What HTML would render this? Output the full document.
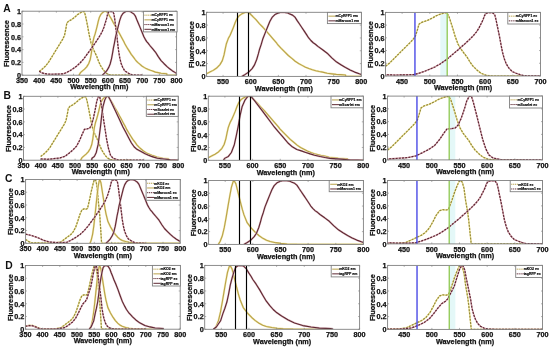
<!DOCTYPE html><html><head><meta charset="utf-8"><title>Spectra</title><style>html,body{margin:0;padding:0;background:#fff;width:550px;height:349px;overflow:hidden}svg{display:block;will-change:transform}</style></head><body><svg width="550" height="349" viewBox="0 0 550 349"><style>.t{font-family:"Liberation Sans",sans-serif;font-weight:bold;font-size:7.25px;fill:#111;stroke:#111;stroke-width:0.25px}.l{font-family:"Liberation Sans",sans-serif;font-size:3.5px;font-weight:bold;fill:#000;stroke:#000;stroke-width:0.15px}.p{font-family:"Liberation Sans",sans-serif;font-weight:bold;font-size:10.3px;fill:#111}</style><rect width="550" height="349" fill="#fff"/><clipPath id="cA1"><rect x="22" y="11.2" width="154.6" height="64"/></clipPath><clipPath id="cA2"><rect x="206.5" y="12.3" width="154.8" height="64.1"/></clipPath><clipPath id="cA3"><rect x="385.5" y="12.4" width="155" height="63.6"/></clipPath><clipPath id="cB1"><rect x="23.5" y="96.3" width="154.7" height="63.9"/></clipPath><clipPath id="cB2"><rect x="208.3" y="96.2" width="155" height="64.1"/></clipPath><clipPath id="cB3"><rect x="387.5" y="96.1" width="155" height="63.8"/></clipPath><clipPath id="cC1"><rect x="25.6" y="179.5" width="154.6" height="63.8"/></clipPath><clipPath id="cC2"><rect x="208.6" y="180.5" width="154.8" height="63.9"/></clipPath><clipPath id="cC3"><rect x="387.5" y="180.5" width="155" height="63.4"/></clipPath><clipPath id="cD1"><rect x="25.4" y="265.5" width="154.8" height="63.7"/></clipPath><clipPath id="cD2"><rect x="204.7" y="265.4" width="154.9" height="63.9"/></clipPath><clipPath id="cD3"><rect x="387.6" y="265.4" width="154.9" height="64"/></clipPath><g clip-path="url(#cA1)"><polyline points="39.18,71.49 42.61,68.8 45.71,65.86 48.66,62.02 52.16,56.38 55.67,50.62 59.21,44.93 62.75,39.17 64.5,35.46 65.67,29.76 66.83,23.1 68.59,21.18 72.12,19.26 75.59,16.45 77.38,14.72 79.85,13.12 82.36,11.84 84.18,11.52 85.52,15.81 87.38,24.96 89.23,35.07 91.09,43.2 92.94,48.32 94.83,52.35 96.69,56.26 98.54,61.31 100.4,65.34 102.94,69.38 105.42,72.51 108.51,74.5 112.15,75.2 130.56,75.2" fill="none" stroke="#eee39a" stroke-width="1.5" stroke-linejoin="round"/><polyline points="39.18,71.49 42.61,68.8 45.71,65.86 48.66,62.02 52.16,56.38 55.67,50.62 59.21,44.93 62.75,39.17 64.5,35.46 65.67,29.76 66.83,23.1 68.59,21.18 72.12,19.26 75.59,16.45 77.38,14.72 79.85,13.12 82.36,11.84 84.18,11.52 85.52,15.81 87.38,24.96 89.23,35.07 91.09,43.2 92.94,48.32 94.83,52.35 96.69,56.26 98.54,61.31 100.4,65.34 102.94,69.38 105.42,72.51 108.51,74.5 112.15,75.2 130.56,75.2" fill="none" stroke="#948a3c" stroke-width="1.2" stroke-dasharray="2,1.2" stroke-linejoin="round"/><polyline points="79.03,75.2 80.4,72.64 82.4,70.91 84.56,69.18 86.69,66.88 88.79,63.42 90.23,59.46 91.3,53.76 92.02,48.06 92.77,42.56 93.94,37.44 95.07,34.05 96.14,30.08 97.17,26.11 98.23,21.44 99.3,17.6 100.71,14.66 102.15,12.99 104.32,11.39 106.45,11.2 106.86,11.84 109.06,15.17 111.15,18.56 113.35,22.72 115.45,26.11 117.58,30.08 119.74,34.05 121.87,38.08 124.04,42.05 124.83,43.84 126.96,47.42 129.12,50.88 131.25,54.34 133.42,57.15 135.51,60.03 137.64,62.34 139.81,64.19 141.9,65.98 144.03,67.39 146.2,68.61 148.29,69.5 150.49,70.34 152.55,70.91 155.4,72.13 158.25,72.64 161.07,73.22 163.89,73.47 166.77,73.79 166.98,75.2 176.6,75.2" fill="none" stroke="#f2e9b0" stroke-width="2.0" stroke-linejoin="round"/><polyline points="79.03,75.2 80.4,72.64 82.4,70.91 84.56,69.18 86.69,66.88 88.79,63.42 90.23,59.46 91.3,53.76 92.02,48.06 92.77,42.56 93.94,37.44 95.07,34.05 96.14,30.08 97.17,26.11 98.23,21.44 99.3,17.6 100.71,14.66 102.15,12.99 104.32,11.39 106.45,11.2 106.86,11.84 109.06,15.17 111.15,18.56 113.35,22.72 115.45,26.11 117.58,30.08 119.74,34.05 121.87,38.08 124.04,42.05 124.83,43.84 126.96,47.42 129.12,50.88 131.25,54.34 133.42,57.15 135.51,60.03 137.64,62.34 139.81,64.19 141.9,65.98 144.03,67.39 146.2,68.61 148.29,69.5 150.49,70.34 152.55,70.91 155.4,72.13 158.25,72.64 161.07,73.22 163.89,73.47 166.77,73.79 166.98,75.2 176.6,75.2" fill="none" stroke="#b9a24a" stroke-width="1.1" stroke-linejoin="round"/><polyline points="39.18,71.3 41.93,72.9 46.39,73.92 51.89,74.24 58.42,74.05 63.57,73.79 66.9,72.38 70.2,70.53 73.43,68.42 76.69,66.11 79.99,63.04 84.08,58.43 88.2,52.8 91.05,48.96 92.77,46.4 95.28,42.88 98.23,38.4 100.54,34.62 102.39,31.04 103.9,27.39 105.38,22.59 106.51,18.88 107.61,14.08 108.75,11.9 110.98,11.39 112.84,11.9 113.94,14.02 114.69,18.88 115.45,24.96 116.24,31.04 116.99,37.06 117.68,43.2 118.61,50.88 119.71,57.6 121.01,63.1 122.73,67.46 124.72,70.78 127.13,72.38 129.53,73.79 131.87,74.88 142.24,75.2" fill="none" stroke="#d7a7b0" stroke-width="1.5" stroke-linejoin="round"/><polyline points="39.18,71.3 41.93,72.9 46.39,73.92 51.89,74.24 58.42,74.05 63.57,73.79 66.9,72.38 70.2,70.53 73.43,68.42 76.69,66.11 79.99,63.04 84.08,58.43 88.2,52.8 91.05,48.96 92.77,46.4 95.28,42.88 98.23,38.4 100.54,34.62 102.39,31.04 103.9,27.39 105.38,22.59 106.51,18.88 107.61,14.08 108.75,11.9 110.98,11.39 112.84,11.9 113.94,14.02 114.69,18.88 115.45,24.96 116.24,31.04 116.99,37.06 117.68,43.2 118.61,50.88 119.71,57.6 121.01,63.1 122.73,67.46 124.72,70.78 127.13,72.38 129.53,73.79 131.87,74.88 142.24,75.2" fill="none" stroke="#5c2632" stroke-width="1.2" stroke-dasharray="2,1.2" stroke-linejoin="round"/><polyline points="102.32,75.2 104.45,73.22 106.62,70.91 108.75,67.39 110.16,64 111.6,58.3 112.66,52.54 113.39,48.06 114.42,43.2 115.45,37.57 116.89,31.74 118.3,26.11 119.74,20.42 121.15,16.32 122.9,13.5 124.72,12.1 126.82,11.2 128.85,11.33 131.04,11.84 131.8,12.61 133.9,14.02 135.37,16.06 136.75,19.52 138.19,22.91 139.63,26.37 141.04,29.76 142.48,33.28 143.89,36.8 145.27,39.36 146.71,41.6 148.08,43.07 149.63,45.25 152.55,48.58 155.4,52.03 158.25,56.64 161.07,60.61 163.89,63.49 166.77,66.3 169.63,68.8 172.48,70.91 175.36,72.64 176.6,73.22" fill="none" stroke="#e2c0c6" stroke-width="2.0" stroke-linejoin="round"/><polyline points="102.32,75.2 104.45,73.22 106.62,70.91 108.75,67.39 110.16,64 111.6,58.3 112.66,52.54 113.39,48.06 114.42,43.2 115.45,37.57 116.89,31.74 118.3,26.11 119.74,20.42 121.15,16.32 122.9,13.5 124.72,12.1 126.82,11.2 128.85,11.33 131.04,11.84 131.8,12.61 133.9,14.02 135.37,16.06 136.75,19.52 138.19,22.91 139.63,26.37 141.04,29.76 142.48,33.28 143.89,36.8 145.27,39.36 146.71,41.6 148.08,43.07 149.63,45.25 152.55,48.58 155.4,52.03 158.25,56.64 161.07,60.61 163.89,63.49 166.77,66.3 169.63,68.8 172.48,70.91 175.36,72.64 176.6,73.22" fill="none" stroke="#5e2832" stroke-width="1.1" stroke-linejoin="round"/></g><rect x="22" y="11.2" width="154.6" height="64" fill="none" stroke="#808080" stroke-width="0.9"/><path d="M22 75.2v-1.5M22 11.2v1.5M39.18 75.2v-1.5M39.18 11.2v1.5M56.36 75.2v-1.5M56.36 11.2v1.5M73.53 75.2v-1.5M73.53 11.2v1.5M90.71 75.2v-1.5M90.71 11.2v1.5M107.89 75.2v-1.5M107.89 11.2v1.5M125.07 75.2v-1.5M125.07 11.2v1.5M142.24 75.2v-1.5M142.24 11.2v1.5M159.42 75.2v-1.5M159.42 11.2v1.5M176.6 75.2v-1.5M176.6 11.2v1.5M22 75.2h1.5M176.6 75.2h-1.5M22 62.4h1.5M176.6 62.4h-1.5M22 49.6h1.5M176.6 49.6h-1.5M22 36.8h1.5M176.6 36.8h-1.5M22 24h1.5M176.6 24h-1.5M22 11.2h1.5M176.6 11.2h-1.5" stroke="#808080" stroke-width="0.6" fill="none"/><text x="22" y="82.8" class="t" text-anchor="middle">350</text><text x="39.18" y="82.8" class="t" text-anchor="middle">400</text><text x="56.36" y="82.8" class="t" text-anchor="middle">450</text><text x="73.53" y="82.8" class="t" text-anchor="middle">500</text><text x="90.71" y="82.8" class="t" text-anchor="middle">550</text><text x="107.89" y="82.8" class="t" text-anchor="middle">600</text><text x="125.07" y="82.8" class="t" text-anchor="middle">650</text><text x="142.24" y="82.8" class="t" text-anchor="middle">700</text><text x="159.42" y="82.8" class="t" text-anchor="middle">750</text><text x="176.6" y="82.8" class="t" text-anchor="middle">800</text><text x="21" y="78.05" class="t" text-anchor="end">0</text><text x="21" y="65.25" class="t" text-anchor="end">0.2</text><text x="21" y="52.45" class="t" text-anchor="end">0.4</text><text x="21" y="39.65" class="t" text-anchor="end">0.6</text><text x="21" y="26.85" class="t" text-anchor="end">0.8</text><text x="21" y="14.05" class="t" text-anchor="end">1</text><text x="99.3" y="89.4" class="t" text-anchor="middle">Wavelength (nm)</text><text transform="translate(9.2 43.5) rotate(-90)" class="t" text-anchor="middle">Fluorescence</text><rect x="143.4" y="11.4" width="33.7" height="20.5" fill="#fff" stroke="#808080" stroke-width="0.9"/><line x1="144.4" y1="15.15" x2="151.4" y2="15.15" stroke="#b9a24a" stroke-width="1" stroke-dasharray="1.2,0.7"/><text x="151.4" y="16.4" class="l">mCyRFP1 ex</text><line x1="144.4" y1="19.87" x2="151.4" y2="19.87" stroke="#b9a24a" stroke-width="1"/><text x="151.4" y="21.12" class="l">mCyRFP1 em</text><line x1="144.4" y1="24.59" x2="151.4" y2="24.59" stroke="#5e2832" stroke-width="1" stroke-dasharray="1.2,0.7"/><text x="151.4" y="25.84" class="l">mMaroon1 ex</text><line x1="144.4" y1="29.31" x2="151.4" y2="29.31" stroke="#5e2832" stroke-width="1"/><text x="151.4" y="30.56" class="l">mMaroon1 em</text><g clip-path="url(#cA2)"><polyline points="204.29,76.4 206.5,73.84 209.71,72.11 213.19,70.37 216.62,68.07 219.99,64.61 222.31,60.63 224.03,54.93 225.19,49.22 226.4,43.71 228.28,38.58 230.11,35.18 231.82,31.21 233.48,27.24 235.19,22.56 236.91,18.71 239.17,15.76 241.5,14.09 244.98,12.49 248.41,12.3 249.07,12.94 252.61,16.27 255.98,19.67 259.52,23.84 262.89,27.24 266.32,31.21 269.8,35.18 273.23,39.22 276.71,43.2 277.98,44.99 281.41,48.58 284.9,52.04 288.32,55.5 291.81,58.32 295.18,61.21 298.61,63.52 302.09,65.37 305.46,67.17 308.89,68.58 312.37,69.8 315.74,70.7 319.28,71.53 322.6,72.11 327.19,73.32 331.78,73.84 336.31,74.41 340.84,74.67 345.49,74.99 345.82,76.4 361.3,76.4" fill="none" stroke="#f2e9b0" stroke-width="2.0" stroke-linejoin="round"/><polyline points="204.29,76.4 206.5,73.84 209.71,72.11 213.19,70.37 216.62,68.07 219.99,64.61 222.31,60.63 224.03,54.93 225.19,49.22 226.4,43.71 228.28,38.58 230.11,35.18 231.82,31.21 233.48,27.24 235.19,22.56 236.91,18.71 239.17,15.76 241.5,14.09 244.98,12.49 248.41,12.3 249.07,12.94 252.61,16.27 255.98,19.67 259.52,23.84 262.89,27.24 266.32,31.21 269.8,35.18 273.23,39.22 276.71,43.2 277.98,44.99 281.41,48.58 284.9,52.04 288.32,55.5 291.81,58.32 295.18,61.21 298.61,63.52 302.09,65.37 305.46,67.17 308.89,68.58 312.37,69.8 315.74,70.7 319.28,71.53 322.6,72.11 327.19,73.32 331.78,73.84 336.31,74.41 340.84,74.67 345.49,74.99 345.82,76.4 361.3,76.4" fill="none" stroke="#b9a24a" stroke-width="1.1" stroke-linejoin="round"/><polyline points="241.77,76.4 245.2,74.41 248.68,72.11 252.11,68.58 254.38,65.18 256.7,59.48 258.41,53.71 259.57,49.22 261.23,44.35 262.89,38.71 265.21,32.88 267.48,27.24 269.8,21.53 272.07,17.43 274.89,14.61 277.82,13.2 281.19,12.3 284.45,12.43 287.99,12.94 289.21,13.71 292.58,15.12 294.96,17.17 297.17,20.63 299.49,24.03 301.81,27.49 304.08,30.89 306.4,34.41 308.67,37.94 310.88,40.5 313.2,42.75 315.41,44.22 317.9,46.4 322.6,49.73 327.19,53.2 331.78,57.81 336.31,61.79 340.84,64.67 345.49,67.49 350.08,69.99 354.67,72.11 359.31,73.84 361.3,74.41" fill="none" stroke="#e2c0c6" stroke-width="2.0" stroke-linejoin="round"/><polyline points="241.77,76.4 245.2,74.41 248.68,72.11 252.11,68.58 254.38,65.18 256.7,59.48 258.41,53.71 259.57,49.22 261.23,44.35 262.89,38.71 265.21,32.88 267.48,27.24 269.8,21.53 272.07,17.43 274.89,14.61 277.82,13.2 281.19,12.3 284.45,12.43 287.99,12.94 289.21,13.71 292.58,15.12 294.96,17.17 297.17,20.63 299.49,24.03 301.81,27.49 304.08,30.89 306.4,34.41 308.67,37.94 310.88,40.5 313.2,42.75 315.41,44.22 317.9,46.4 322.6,49.73 327.19,53.2 331.78,57.81 336.31,61.79 340.84,64.67 345.49,67.49 350.08,69.99 354.67,72.11 359.31,73.84 361.3,74.41" fill="none" stroke="#5e2832" stroke-width="1.1" stroke-linejoin="round"/><line x1="237.5" y1="12.3" x2="237.5" y2="76.4" stroke="#000" stroke-width="1.15"/><line x1="248.5" y1="12.3" x2="248.5" y2="76.4" stroke="#000" stroke-width="1.15"/></g><rect x="206.5" y="12.3" width="154.8" height="64.1" fill="none" stroke="#808080" stroke-width="0.9"/><path d="M223.09 76.4v-1.5M223.09 12.3v1.5M250.73 76.4v-1.5M250.73 12.3v1.5M278.37 76.4v-1.5M278.37 12.3v1.5M306.01 76.4v-1.5M306.01 12.3v1.5M333.66 76.4v-1.5M333.66 12.3v1.5M361.3 76.4v-1.5M361.3 12.3v1.5M206.5 76.4h1.5M361.3 76.4h-1.5M206.5 63.58h1.5M361.3 63.58h-1.5M206.5 50.76h1.5M361.3 50.76h-1.5M206.5 37.94h1.5M361.3 37.94h-1.5M206.5 25.12h1.5M361.3 25.12h-1.5M206.5 12.3h1.5M361.3 12.3h-1.5" stroke="#808080" stroke-width="0.6" fill="none"/><text x="223.09" y="84" class="t" text-anchor="middle">550</text><text x="250.73" y="84" class="t" text-anchor="middle">600</text><text x="278.37" y="84" class="t" text-anchor="middle">650</text><text x="306.01" y="84" class="t" text-anchor="middle">700</text><text x="333.66" y="84" class="t" text-anchor="middle">750</text><text x="361.3" y="84" class="t" text-anchor="middle">800</text><text x="205.5" y="79.25" class="t" text-anchor="end">0</text><text x="205.5" y="66.43" class="t" text-anchor="end">0.2</text><text x="205.5" y="53.61" class="t" text-anchor="end">0.4</text><text x="205.5" y="40.79" class="t" text-anchor="end">0.6</text><text x="205.5" y="27.97" class="t" text-anchor="end">0.8</text><text x="205.5" y="15.15" class="t" text-anchor="end">1</text><text x="283.9" y="90.6" class="t" text-anchor="middle">Wavelength (nm)</text><text transform="translate(193.7 44.65) rotate(-90)" class="t" text-anchor="middle">Fluorescence</text><rect x="327.4" y="12.4" width="34" height="11.2" fill="#fff" stroke="#808080" stroke-width="0.9"/><line x1="328.4" y1="16.15" x2="335.4" y2="16.15" stroke="#b9a24a" stroke-width="1"/><text x="335.4" y="17.4" class="l">mCyRFP1 em</text><line x1="328.4" y1="20.87" x2="335.4" y2="20.87" stroke="#5e2832" stroke-width="1"/><text x="335.4" y="22.12" class="l">mMaroon1 em</text><g clip-path="url(#cA3)"><rect x="440.3" y="12.4" width="6.92" height="63.6" fill="#e4f8f8"/><polyline points="374.43,72.31 379.96,69.64 384.95,66.71 389.71,62.9 395.35,57.3 401,51.58 406.7,45.92 412.4,40.19 415.23,36.5 417.11,30.84 418.99,24.23 421.81,22.32 427.52,20.41 433.11,17.62 435.99,15.9 439.97,14.31 444.01,13.04 446.95,12.72 449.11,16.98 452.09,26.07 455.08,36.12 458.07,44.2 461.06,49.29 464.11,53.29 467.1,57.17 470.09,62.2 473.08,66.21 477.17,70.21 481.16,73.33 486.14,75.3 492.01,76 521.68,76" fill="none" stroke="#eee39a" stroke-width="1.5" stroke-linejoin="round"/><polyline points="374.43,72.31 379.96,69.64 384.95,66.71 389.71,62.9 395.35,57.3 401,51.58 406.7,45.92 412.4,40.19 415.23,36.5 417.11,30.84 418.99,24.23 421.81,22.32 427.52,20.41 433.11,17.62 435.99,15.9 439.97,14.31 444.01,13.04 446.95,12.72 449.11,16.98 452.09,26.07 455.08,36.12 458.07,44.2 461.06,49.29 464.11,53.29 467.1,57.17 470.09,62.2 473.08,66.21 477.17,70.21 481.16,73.33 486.14,75.3 492.01,76 521.68,76" fill="none" stroke="#948a3c" stroke-width="1.2" stroke-dasharray="2,1.2" stroke-linejoin="round"/><polyline points="374.43,72.12 378.86,73.71 386.05,74.73 394.91,75.05 405.43,74.86 413.73,74.6 419.1,73.2 424.42,71.36 429.62,69.26 434.88,66.97 440.19,63.92 446.78,59.34 453.42,53.74 458.02,49.92 460.79,47.38 464.83,43.88 469.59,39.43 473.3,35.68 476.29,32.12 478.72,28.49 481.1,23.72 482.93,20.03 484.7,15.26 486.53,13.1 490.12,12.59 493.11,13.1 494.89,15.2 496.1,20.03 497.32,26.07 498.59,32.12 499.81,38.09 500.92,44.2 502.41,51.83 504.19,58.51 506.29,63.98 509.06,68.3 512.27,71.61 516.14,73.2 520.02,74.6 523.78,75.68 540.5,76" fill="none" stroke="#d7a7b0" stroke-width="1.5" stroke-linejoin="round"/><polyline points="374.43,72.12 378.86,73.71 386.05,74.73 394.91,75.05 405.43,74.86 413.73,74.6 419.1,73.2 424.42,71.36 429.62,69.26 434.88,66.97 440.19,63.92 446.78,59.34 453.42,53.74 458.02,49.92 460.79,47.38 464.83,43.88 469.59,39.43 473.3,35.68 476.29,32.12 478.72,28.49 481.1,23.72 482.93,20.03 484.7,15.26 486.53,13.1 490.12,12.59 493.11,13.1 494.89,15.2 496.1,20.03 497.32,26.07 498.59,32.12 499.81,38.09 500.92,44.2 502.41,51.83 504.19,58.51 506.29,63.98 509.06,68.3 512.27,71.61 516.14,73.2 520.02,74.6 523.78,75.68 540.5,76" fill="none" stroke="#5c2632" stroke-width="1.2" stroke-dasharray="2,1.2" stroke-linejoin="round"/><line x1="414.95" y1="12.4" x2="414.95" y2="76" stroke="#3c3ce4" stroke-width="1.3"/><line x1="447.22" y1="12.4" x2="447.22" y2="76" stroke="#96cc5c" stroke-width="1.4"/></g><rect x="385.5" y="12.4" width="155" height="63.6" fill="none" stroke="#808080" stroke-width="0.9"/><path d="M402.11 76v-1.5M402.11 12.4v1.5M429.79 76v-1.5M429.79 12.4v1.5M457.46 76v-1.5M457.46 12.4v1.5M485.14 76v-1.5M485.14 12.4v1.5M512.82 76v-1.5M512.82 12.4v1.5M540.5 76v-1.5M540.5 12.4v1.5M385.5 76h1.5M540.5 76h-1.5M385.5 63.28h1.5M540.5 63.28h-1.5M385.5 50.56h1.5M540.5 50.56h-1.5M385.5 37.84h1.5M540.5 37.84h-1.5M385.5 25.12h1.5M540.5 25.12h-1.5M385.5 12.4h1.5M540.5 12.4h-1.5" stroke="#808080" stroke-width="0.6" fill="none"/><text x="402.11" y="83.6" class="t" text-anchor="middle">450</text><text x="429.79" y="83.6" class="t" text-anchor="middle">500</text><text x="457.46" y="83.6" class="t" text-anchor="middle">550</text><text x="485.14" y="83.6" class="t" text-anchor="middle">600</text><text x="512.82" y="83.6" class="t" text-anchor="middle">650</text><text x="540.5" y="83.6" class="t" text-anchor="middle">700</text><text x="384.5" y="78.85" class="t" text-anchor="end">0</text><text x="384.5" y="66.13" class="t" text-anchor="end">0.2</text><text x="384.5" y="53.41" class="t" text-anchor="end">0.4</text><text x="384.5" y="40.69" class="t" text-anchor="end">0.6</text><text x="384.5" y="27.97" class="t" text-anchor="end">0.8</text><text x="384.5" y="15.25" class="t" text-anchor="end">1</text><text x="463" y="90.2" class="t" text-anchor="middle">Wavelength (nm)</text><text transform="translate(372.7 44.5) rotate(-90)" class="t" text-anchor="middle">Fluorescence</text><rect x="507.8" y="12.4" width="32.7" height="11.6" fill="#fff" stroke="#808080" stroke-width="0.9"/><line x1="508.8" y1="16.15" x2="515.8" y2="16.15" stroke="#b9a24a" stroke-width="1" stroke-dasharray="1.2,0.7"/><text x="515.8" y="17.4" class="l">mCyRFP1 ex</text><line x1="508.8" y1="20.87" x2="515.8" y2="20.87" stroke="#5e2832" stroke-width="1" stroke-dasharray="1.2,0.7"/><text x="515.8" y="22.12" class="l">mMaroon1 ex</text><g clip-path="url(#cB1)"><polyline points="40.69,156.49 44.13,153.81 47.22,150.87 50.18,147.04 53.68,141.41 57.19,135.66 60.73,129.98 64.27,124.22 66.03,120.52 67.19,114.83 68.36,108.19 70.12,106.27 73.66,104.35 77.13,101.54 78.92,99.81 81.39,98.22 83.9,96.94 85.72,96.62 87.06,100.9 88.92,110.04 90.78,120.13 92.63,128.25 94.49,133.36 96.38,137.39 98.24,141.29 100.09,146.33 101.95,150.36 104.49,154.39 106.97,157.52 110.06,159.5 113.71,160.2 132.13,160.2" fill="none" stroke="#eee39a" stroke-width="1.5" stroke-linejoin="round"/><polyline points="40.69,156.49 44.13,153.81 47.22,150.87 50.18,147.04 53.68,141.41 57.19,135.66 60.73,129.98 64.27,124.22 66.03,120.52 67.19,114.83 68.36,108.19 70.12,106.27 73.66,104.35 77.13,101.54 78.92,99.81 81.39,98.22 83.9,96.94 85.72,96.62 87.06,100.9 88.92,110.04 90.78,120.13 92.63,128.25 94.49,133.36 96.38,137.39 98.24,141.29 100.09,146.33 101.95,150.36 104.49,154.39 106.97,157.52 110.06,159.5 113.71,160.2 132.13,160.2" fill="none" stroke="#948a3c" stroke-width="1.2" stroke-dasharray="2,1.2" stroke-linejoin="round"/><polyline points="80.57,160.2 81.94,157.64 83.94,155.92 86.1,154.19 88.23,151.89 90.33,148.44 91.77,144.48 92.84,138.79 93.56,133.11 94.32,127.61 95.49,122.5 96.62,119.11 97.69,115.15 98.72,111.19 99.78,106.52 100.85,102.69 102.26,99.75 103.7,98.09 105.87,96.49 108,96.3 108.41,96.94 110.61,100.26 112.71,103.65 114.91,107.8 117.01,111.19 119.14,115.15 121.3,119.11 123.44,123.14 125.6,127.1 126.39,128.89 128.52,132.47 130.69,135.92 132.82,139.37 134.99,142.18 137.08,145.06 139.22,147.36 141.38,149.21 143.48,151 145.61,152.4 147.78,153.62 149.87,154.51 152.07,155.34 154.14,155.92 156.99,157.13 159.84,157.64 162.66,158.22 165.48,158.47 168.37,158.79 168.57,160.2 178.2,160.2" fill="none" stroke="#f2e9b0" stroke-width="2.0" stroke-linejoin="round"/><polyline points="80.57,160.2 81.94,157.64 83.94,155.92 86.1,154.19 88.23,151.89 90.33,148.44 91.77,144.48 92.84,138.79 93.56,133.11 94.32,127.61 95.49,122.5 96.62,119.11 97.69,115.15 98.72,111.19 99.78,106.52 100.85,102.69 102.26,99.75 103.7,98.09 105.87,96.49 108,96.3 108.41,96.94 110.61,100.26 112.71,103.65 114.91,107.8 117.01,111.19 119.14,115.15 121.3,119.11 123.44,123.14 125.6,127.1 126.39,128.89 128.52,132.47 130.69,135.92 132.82,139.37 134.99,142.18 137.08,145.06 139.22,147.36 141.38,149.21 143.48,151 145.61,152.4 147.78,153.62 149.87,154.51 152.07,155.34 154.14,155.92 156.99,157.13 159.84,157.64 162.66,158.22 165.48,158.47 168.37,158.79 168.57,160.2 178.2,160.2" fill="none" stroke="#b9a24a" stroke-width="1.1" stroke-linejoin="round"/><polyline points="40.69,158.92 47.56,159.31 53.75,158.67 60.11,157.9 65.2,156.17 69.05,153.17 72.9,149.98 76.75,145.89 79.91,139.75 82.53,133.49 84.45,129.34 87,128.89 89.57,128.25 91.46,125.25 93.29,118.66 94.52,112.91 95.69,107.16 96.72,101.41 98.37,96.3 99.65,96.3 100.92,102.69 102.84,114.83 104.77,127.36 106.69,139.75 108.62,149.08 110.54,155.28 113.09,158.28 118.25,160.01 123.2,160.2 143.82,160.2" fill="none" stroke="#d7a7b0" stroke-width="1.5" stroke-linejoin="round"/><polyline points="40.69,158.92 47.56,159.31 53.75,158.67 60.11,157.9 65.2,156.17 69.05,153.17 72.9,149.98 76.75,145.89 79.91,139.75 82.53,133.49 84.45,129.34 87,128.89 89.57,128.25 91.46,125.25 93.29,118.66 94.52,112.91 95.69,107.16 96.72,101.41 98.37,96.3 99.65,96.3 100.92,102.69 102.84,114.83 104.77,127.36 106.69,139.75 108.62,149.08 110.54,155.28 113.09,158.28 118.25,160.01 123.2,160.2 143.82,160.2" fill="none" stroke="#5c2632" stroke-width="1.2" stroke-dasharray="2,1.2" stroke-linejoin="round"/><polyline points="91.4,160.2 92.01,158.28 94.42,156.37 96.28,152.4 98.1,144.67 99.27,136.05 100.51,126.33 101.68,115.66 102.91,106.91 104.73,100.13 106.59,96.3 107.38,96.3 108.58,96.68 110.65,100.77 113.12,105.95 115.6,111.19 118.04,116.43 120.51,121.73 122.92,126.97 125.4,131.57 127.84,136.17 130.07,140.39 131.45,142.95 134.09,146.78 136.91,149.34 139.7,150.81 142.45,152.34 145.2,153.81 147.95,155.09 151.39,156.37 154.48,157.39 157.57,158.28 164.11,159.05 170.29,159.88 174.76,160.01 178.2,160.2" fill="none" stroke="#e2c0c6" stroke-width="2.0" stroke-linejoin="round"/><polyline points="91.4,160.2 92.01,158.28 94.42,156.37 96.28,152.4 98.1,144.67 99.27,136.05 100.51,126.33 101.68,115.66 102.91,106.91 104.73,100.13 106.59,96.3 107.38,96.3 108.58,96.68 110.65,100.77 113.12,105.95 115.6,111.19 118.04,116.43 120.51,121.73 122.92,126.97 125.4,131.57 127.84,136.17 130.07,140.39 131.45,142.95 134.09,146.78 136.91,149.34 139.7,150.81 142.45,152.34 145.2,153.81 147.95,155.09 151.39,156.37 154.48,157.39 157.57,158.28 164.11,159.05 170.29,159.88 174.76,160.01 178.2,160.2" fill="none" stroke="#5e2832" stroke-width="1.1" stroke-linejoin="round"/></g><rect x="23.5" y="96.3" width="154.7" height="63.9" fill="none" stroke="#808080" stroke-width="0.9"/><path d="M23.5 160.2v-1.5M23.5 96.3v1.5M40.69 160.2v-1.5M40.69 96.3v1.5M57.88 160.2v-1.5M57.88 96.3v1.5M75.07 160.2v-1.5M75.07 96.3v1.5M92.26 160.2v-1.5M92.26 96.3v1.5M109.44 160.2v-1.5M109.44 96.3v1.5M126.63 160.2v-1.5M126.63 96.3v1.5M143.82 160.2v-1.5M143.82 96.3v1.5M161.01 160.2v-1.5M161.01 96.3v1.5M178.2 160.2v-1.5M178.2 96.3v1.5M23.5 160.2h1.5M178.2 160.2h-1.5M23.5 147.42h1.5M178.2 147.42h-1.5M23.5 134.64h1.5M178.2 134.64h-1.5M23.5 121.86h1.5M178.2 121.86h-1.5M23.5 109.08h1.5M178.2 109.08h-1.5M23.5 96.3h1.5M178.2 96.3h-1.5" stroke="#808080" stroke-width="0.6" fill="none"/><text x="23.5" y="167.8" class="t" text-anchor="middle">350</text><text x="40.69" y="167.8" class="t" text-anchor="middle">400</text><text x="57.88" y="167.8" class="t" text-anchor="middle">450</text><text x="75.07" y="167.8" class="t" text-anchor="middle">500</text><text x="92.26" y="167.8" class="t" text-anchor="middle">550</text><text x="109.44" y="167.8" class="t" text-anchor="middle">600</text><text x="126.63" y="167.8" class="t" text-anchor="middle">650</text><text x="143.82" y="167.8" class="t" text-anchor="middle">700</text><text x="161.01" y="167.8" class="t" text-anchor="middle">750</text><text x="178.2" y="167.8" class="t" text-anchor="middle">800</text><text x="22.5" y="163.05" class="t" text-anchor="end">0</text><text x="22.5" y="150.27" class="t" text-anchor="end">0.2</text><text x="22.5" y="137.49" class="t" text-anchor="end">0.4</text><text x="22.5" y="124.71" class="t" text-anchor="end">0.6</text><text x="22.5" y="111.93" class="t" text-anchor="end">0.8</text><text x="22.5" y="99.15" class="t" text-anchor="end">1</text><text x="100.85" y="174.4" class="t" text-anchor="middle">Wavelength (nm)</text><text transform="translate(10.7 128.55) rotate(-90)" class="t" text-anchor="middle">Fluorescence</text><rect x="146.3" y="96.3" width="31.9" height="20.1" fill="#fff" stroke="#808080" stroke-width="0.9"/><line x1="147.3" y1="100.05" x2="154.3" y2="100.05" stroke="#b9a24a" stroke-width="1" stroke-dasharray="1.2,0.7"/><text x="154.3" y="101.3" class="l">mCyRFP1 ex</text><line x1="147.3" y1="104.77" x2="154.3" y2="104.77" stroke="#b9a24a" stroke-width="1"/><text x="154.3" y="106.02" class="l">mCyRFP1 em</text><line x1="147.3" y1="109.49" x2="154.3" y2="109.49" stroke="#5e2832" stroke-width="1" stroke-dasharray="1.2,0.7"/><text x="154.3" y="110.74" class="l">mScarlet ex</text><line x1="147.3" y1="114.21" x2="154.3" y2="114.21" stroke="#5e2832" stroke-width="1"/><text x="154.3" y="115.46" class="l">mScarlet em</text><g clip-path="url(#cB2)"><polyline points="206.09,160.3 208.3,157.74 211.51,156.01 215,154.27 218.43,151.97 221.81,148.51 224.13,144.53 225.85,138.83 227.01,133.12 228.23,127.61 230.11,122.48 231.94,119.08 233.65,115.11 235.31,111.14 237.03,106.46 238.75,102.61 241.02,99.66 243.34,97.99 246.83,96.39 250.26,96.2 250.93,96.84 254.47,100.17 257.84,103.57 261.39,107.74 264.76,111.14 268.2,115.11 271.68,119.08 275.12,123.12 278.6,127.1 279.88,128.89 283.31,132.48 286.8,135.94 290.23,139.4 293.72,142.22 297.09,145.11 300.53,147.42 304.01,149.27 307.39,151.07 310.82,152.48 314.31,153.7 317.69,154.6 321.23,155.43 324.55,156.01 329.14,157.22 333.74,157.74 338.28,158.31 342.82,158.57 347.47,158.89 347.8,160.3 363.3,160.3" fill="none" stroke="#f2e9b0" stroke-width="2.0" stroke-linejoin="round"/><polyline points="206.09,160.3 208.3,157.74 211.51,156.01 215,154.27 218.43,151.97 221.81,148.51 224.13,144.53 225.85,138.83 227.01,133.12 228.23,127.61 230.11,122.48 231.94,119.08 233.65,115.11 235.31,111.14 237.03,106.46 238.75,102.61 241.02,99.66 243.34,97.99 246.83,96.39 250.26,96.2 250.93,96.84 254.47,100.17 257.84,103.57 261.39,107.74 264.76,111.14 268.2,115.11 271.68,119.08 275.12,123.12 278.6,127.1 279.88,128.89 283.31,132.48 286.8,135.94 290.23,139.4 293.72,142.22 297.09,145.11 300.53,147.42 304.01,149.27 307.39,151.07 310.82,152.48 314.31,153.7 317.69,154.6 321.23,155.43 324.55,156.01 329.14,157.22 333.74,157.74 338.28,158.31 342.82,158.57 347.47,158.89 347.8,160.3 363.3,160.3" fill="none" stroke="#b9a24a" stroke-width="1.1" stroke-linejoin="round"/><polyline points="223.52,160.3 224.52,158.38 228.39,156.45 231.38,152.48 234.32,144.72 236.2,136.07 238.19,126.33 240.07,115.62 242.07,106.84 245,100.05 247.99,96.2 249.26,96.2 251.2,96.58 254.52,100.69 258.51,105.88 262.49,111.14 266.43,116.39 270.41,121.71 274.29,126.97 278.27,131.58 282.2,136.2 285.8,140.43 288.01,142.99 292.28,146.84 296.82,149.4 301.3,150.88 305.73,152.42 310.16,153.89 314.59,155.17 320.12,156.45 325.1,157.48 330.09,158.38 340.6,159.15 350.57,159.98 357.76,160.11 363.3,160.3" fill="none" stroke="#e2c0c6" stroke-width="2.0" stroke-linejoin="round"/><polyline points="223.52,160.3 224.52,158.38 228.39,156.45 231.38,152.48 234.32,144.72 236.2,136.07 238.19,126.33 240.07,115.62 242.07,106.84 245,100.05 247.99,96.2 249.26,96.2 251.2,96.58 254.52,100.69 258.51,105.88 262.49,111.14 266.43,116.39 270.41,121.71 274.29,126.97 278.27,131.58 282.2,136.2 285.8,140.43 288.01,142.99 292.28,146.84 296.82,149.4 301.3,150.88 305.73,152.42 310.16,153.89 314.59,155.17 320.12,156.45 325.1,157.48 330.09,158.38 340.6,159.15 350.57,159.98 357.76,160.11 363.3,160.3" fill="none" stroke="#5e2832" stroke-width="1.1" stroke-linejoin="round"/><line x1="239.5" y1="96.2" x2="239.5" y2="160.3" stroke="#000" stroke-width="1.15"/><line x1="250.5" y1="96.2" x2="250.5" y2="160.3" stroke="#000" stroke-width="1.15"/></g><rect x="208.3" y="96.2" width="155" height="64.1" fill="none" stroke="#808080" stroke-width="0.9"/><path d="M224.91 160.3v-1.5M224.91 96.2v1.5M252.59 160.3v-1.5M252.59 96.2v1.5M280.26 160.3v-1.5M280.26 96.2v1.5M307.94 160.3v-1.5M307.94 96.2v1.5M335.62 160.3v-1.5M335.62 96.2v1.5M363.3 160.3v-1.5M363.3 96.2v1.5M208.3 160.3h1.5M363.3 160.3h-1.5M208.3 147.48h1.5M363.3 147.48h-1.5M208.3 134.66h1.5M363.3 134.66h-1.5M208.3 121.84h1.5M363.3 121.84h-1.5M208.3 109.02h1.5M363.3 109.02h-1.5M208.3 96.2h1.5M363.3 96.2h-1.5" stroke="#808080" stroke-width="0.6" fill="none"/><text x="224.91" y="167.9" class="t" text-anchor="middle">550</text><text x="252.59" y="167.9" class="t" text-anchor="middle">600</text><text x="280.26" y="167.9" class="t" text-anchor="middle">650</text><text x="307.94" y="167.9" class="t" text-anchor="middle">700</text><text x="335.62" y="167.9" class="t" text-anchor="middle">750</text><text x="363.3" y="167.9" class="t" text-anchor="middle">800</text><text x="207.3" y="163.15" class="t" text-anchor="end">0</text><text x="207.3" y="150.33" class="t" text-anchor="end">0.2</text><text x="207.3" y="137.51" class="t" text-anchor="end">0.4</text><text x="207.3" y="124.69" class="t" text-anchor="end">0.6</text><text x="207.3" y="111.87" class="t" text-anchor="end">0.8</text><text x="207.3" y="99.05" class="t" text-anchor="end">1</text><text x="285.8" y="174.5" class="t" text-anchor="middle">Wavelength (nm)</text><text transform="translate(195.5 128.55) rotate(-90)" class="t" text-anchor="middle">Fluorescence</text><rect x="331" y="96.2" width="32.3" height="11.6" fill="#fff" stroke="#808080" stroke-width="0.9"/><line x1="332" y1="99.95" x2="339" y2="99.95" stroke="#b9a24a" stroke-width="1"/><text x="339" y="101.2" class="l">mCyRFP1 em</text><line x1="332" y1="104.67" x2="339" y2="104.67" stroke="#5e2832" stroke-width="1"/><text x="339" y="105.92" class="l">mScarlet em</text><g clip-path="url(#cB3)"><rect x="449.5" y="96.1" width="5.81" height="63.8" fill="#e4f8f8"/><polyline points="376.43,156.2 381.96,153.52 386.95,150.59 391.71,146.76 397.35,141.14 403,135.4 408.7,129.72 414.4,123.98 417.23,120.28 419.11,114.6 420.99,107.97 423.81,106.05 429.52,104.14 435.11,101.33 437.99,99.61 441.97,98.01 446.01,96.74 448.95,96.42 451.11,100.69 454.09,109.82 457.08,119.9 460.07,128 463.06,133.1 466.11,137.12 469.1,141.02 472.09,146.06 475.08,150.07 479.17,154.09 483.16,157.22 488.14,159.2 494.01,159.9 523.68,159.9" fill="none" stroke="#eee39a" stroke-width="1.5" stroke-linejoin="round"/><polyline points="376.43,156.2 381.96,153.52 386.95,150.59 391.71,146.76 397.35,141.14 403,135.4 408.7,129.72 414.4,123.98 417.23,120.28 419.11,114.6 420.99,107.97 423.81,106.05 429.52,104.14 435.11,101.33 437.99,99.61 441.97,98.01 446.01,96.74 448.95,96.42 451.11,100.69 454.09,109.82 457.08,119.9 460.07,128 463.06,133.1 466.11,137.12 469.1,141.02 472.09,146.06 475.08,150.07 479.17,154.09 483.16,157.22 488.14,159.2 494.01,159.9 523.68,159.9" fill="none" stroke="#948a3c" stroke-width="1.2" stroke-dasharray="2,1.2" stroke-linejoin="round"/><polyline points="376.43,158.62 387.5,159.01 397.46,158.37 407.71,157.6 415.9,155.88 422.1,152.88 428.3,149.69 434.5,145.61 439.59,139.48 443.8,133.23 446.9,129.08 450.99,128.64 455.15,128 458.19,125 461.12,118.43 463.12,112.69 465,106.95 466.66,101.2 469.32,96.1 471.37,96.1 473.41,102.48 476.51,114.6 479.61,127.11 482.71,139.48 485.81,148.8 488.91,154.99 493.01,157.99 501.31,159.71 509.29,159.9 542.5,159.9" fill="none" stroke="#d7a7b0" stroke-width="1.5" stroke-linejoin="round"/><polyline points="376.43,158.62 387.5,159.01 397.46,158.37 407.71,157.6 415.9,155.88 422.1,152.88 428.3,149.69 434.5,145.61 439.59,139.48 443.8,133.23 446.9,129.08 450.99,128.64 455.15,128 458.19,125 461.12,118.43 463.12,112.69 465,106.95 466.66,101.2 469.32,96.1 471.37,96.1 473.41,102.48 476.51,114.6 479.61,127.11 482.71,139.48 485.81,148.8 488.91,154.99 493.01,157.99 501.31,159.71 509.29,159.9 542.5,159.9" fill="none" stroke="#5c2632" stroke-width="1.2" stroke-dasharray="2,1.2" stroke-linejoin="round"/><line x1="416.95" y1="96.1" x2="416.95" y2="159.9" stroke="#3c3ce4" stroke-width="1.3"/><line x1="449.22" y1="96.1" x2="449.22" y2="159.9" stroke="#96cc5c" stroke-width="1.4"/></g><rect x="387.5" y="96.1" width="155" height="63.8" fill="none" stroke="#808080" stroke-width="0.9"/><path d="M404.11 159.9v-1.5M404.11 96.1v1.5M431.79 159.9v-1.5M431.79 96.1v1.5M459.46 159.9v-1.5M459.46 96.1v1.5M487.14 159.9v-1.5M487.14 96.1v1.5M514.82 159.9v-1.5M514.82 96.1v1.5M542.5 159.9v-1.5M542.5 96.1v1.5M387.5 159.9h1.5M542.5 159.9h-1.5M387.5 147.14h1.5M542.5 147.14h-1.5M387.5 134.38h1.5M542.5 134.38h-1.5M387.5 121.62h1.5M542.5 121.62h-1.5M387.5 108.86h1.5M542.5 108.86h-1.5M387.5 96.1h1.5M542.5 96.1h-1.5" stroke="#808080" stroke-width="0.6" fill="none"/><text x="404.11" y="167.5" class="t" text-anchor="middle">450</text><text x="431.79" y="167.5" class="t" text-anchor="middle">500</text><text x="459.46" y="167.5" class="t" text-anchor="middle">550</text><text x="487.14" y="167.5" class="t" text-anchor="middle">600</text><text x="514.82" y="167.5" class="t" text-anchor="middle">650</text><text x="542.5" y="167.5" class="t" text-anchor="middle">700</text><text x="386.5" y="162.75" class="t" text-anchor="end">0</text><text x="386.5" y="149.99" class="t" text-anchor="end">0.2</text><text x="386.5" y="137.23" class="t" text-anchor="end">0.4</text><text x="386.5" y="124.47" class="t" text-anchor="end">0.6</text><text x="386.5" y="111.71" class="t" text-anchor="end">0.8</text><text x="386.5" y="98.95" class="t" text-anchor="end">1</text><text x="465" y="174.1" class="t" text-anchor="middle">Wavelength (nm)</text><text transform="translate(374.7 128.3) rotate(-90)" class="t" text-anchor="middle">Fluorescence</text><rect x="509.5" y="96.1" width="33" height="11.9" fill="#fff" stroke="#808080" stroke-width="0.9"/><line x1="510.5" y1="99.85" x2="517.5" y2="99.85" stroke="#b9a24a" stroke-width="1" stroke-dasharray="1.2,0.7"/><text x="517.5" y="101.1" class="l">mCyRFP1 ex</text><line x1="510.5" y1="104.57" x2="517.5" y2="104.57" stroke="#5e2832" stroke-width="1" stroke-dasharray="1.2,0.7"/><text x="517.5" y="105.82" class="l">mScarlet ex</text><g clip-path="url(#cC1)"><polyline points="25.6,239.47 28.35,241.39 31.1,242.79 42.78,243.04 49.65,243.04 56.18,242.79 60.99,241.9 64.28,239.47 67.58,236.92 70.81,234.5 73.29,231.62 75.76,226.97 77.82,221.03 79.88,214.46 81.94,209.93 84,208.85 86.07,209.17 87.44,208.53 88.33,205.02 89.78,198.64 91.22,191.62 92.66,185.56 93.97,180.78 95,179.5 96.03,181.09 97.16,187.6 98.09,199.28 99.4,211.4 99.98,218.42 100.77,230.54 101.53,242.02 101.7,243.3 145.84,243.3" fill="none" stroke="#eee39a" stroke-width="1.5" stroke-linejoin="round"/><polyline points="25.6,239.47 28.35,241.39 31.1,242.79 42.78,243.04 49.65,243.04 56.18,242.79 60.99,241.9 64.28,239.47 67.58,236.92 70.81,234.5 73.29,231.62 75.76,226.97 77.82,221.03 79.88,214.46 81.94,209.93 84,208.85 86.07,209.17 87.44,208.53 88.33,205.02 89.78,198.64 91.22,191.62 92.66,185.56 93.97,180.78 95,179.5 96.03,181.09 97.16,187.6 98.09,199.28 99.4,211.4 99.98,218.42 100.77,230.54 101.53,242.02 101.7,243.3 145.84,243.3" fill="none" stroke="#948a3c" stroke-width="1.2" stroke-dasharray="2,1.2" stroke-linejoin="round"/><polyline points="90.02,243.3 91.22,240.11 92.59,234.37 93.8,226.07 94.93,216.06 95.99,205.85 97.09,195.58 98.16,186.39 99.22,180.78 99.91,179.82 101.01,183.01 101.7,187.6 102.76,194.37 103.83,201.26 104.93,208.15 105.99,213.82 107.95,221.61 110.56,227.03 113.21,231.5 115.44,234.69 117.74,237.24 120.01,239.15 122.28,240.43 125.68,241.58 129.01,242.28 132.79,242.85 138.97,243.17 163.02,243.3 180.2,243.3" fill="none" stroke="#f2e9b0" stroke-width="2.0" stroke-linejoin="round"/><polyline points="90.02,243.3 91.22,240.11 92.59,234.37 93.8,226.07 94.93,216.06 95.99,205.85 97.09,195.58 98.16,186.39 99.22,180.78 99.91,179.82 101.01,183.01 101.7,187.6 102.76,194.37 103.83,201.26 104.93,208.15 105.99,213.82 107.95,221.61 110.56,227.03 113.21,231.5 115.44,234.69 117.74,237.24 120.01,239.15 122.28,240.43 125.68,241.58 129.01,242.28 132.79,242.85 138.97,243.17 163.02,243.3 180.2,243.3" fill="none" stroke="#b9a24a" stroke-width="1.1" stroke-linejoin="round"/><polyline points="25.6,234.11 31.1,235.39 37.28,237.43 43.46,240.3 49.65,242.02 56,242.53 62.02,242.53 67.17,242.15 70.5,240.49 73.8,238.64 77.03,236.54 80.29,234.24 83.59,231.18 87.68,226.58 91.8,220.97 94.65,217.14 96.37,214.59 98.88,211.08 101.83,206.62 104.14,202.85 105.99,199.28 107.5,195.64 108.98,190.86 110.11,187.16 111.21,182.37 112.35,180.2 114.58,179.69 116.44,180.2 117.54,182.31 118.29,187.16 119.05,193.22 119.84,199.28 120.59,205.28 121.28,211.4 122.21,219.06 123.31,225.75 124.61,231.24 126.33,235.58 128.32,238.9 130.73,240.49 133.13,241.9 135.47,242.98 145.84,243.3" fill="none" stroke="#d7a7b0" stroke-width="1.5" stroke-linejoin="round"/><polyline points="25.6,234.11 31.1,235.39 37.28,237.43 43.46,240.3 49.65,242.02 56,242.53 62.02,242.53 67.17,242.15 70.5,240.49 73.8,238.64 77.03,236.54 80.29,234.24 83.59,231.18 87.68,226.58 91.8,220.97 94.65,217.14 96.37,214.59 98.88,211.08 101.83,206.62 104.14,202.85 105.99,199.28 107.5,195.64 108.98,190.86 110.11,187.16 111.21,182.37 112.35,180.2 114.58,179.69 116.44,180.2 117.54,182.31 118.29,187.16 119.05,193.22 119.84,199.28 120.59,205.28 121.28,211.4 122.21,219.06 123.31,225.75 124.61,231.24 126.33,235.58 128.32,238.9 130.73,240.49 133.13,241.9 135.47,242.98 145.84,243.3" fill="none" stroke="#5c2632" stroke-width="1.2" stroke-dasharray="2,1.2" stroke-linejoin="round"/><polyline points="105.92,243.3 108.05,241.32 110.22,239.03 112.35,235.52 113.76,232.14 115.2,226.46 116.26,220.71 116.99,216.25 118.02,211.4 119.05,205.79 120.49,199.98 121.9,194.37 123.34,188.69 124.75,184.6 126.5,181.8 128.32,180.39 130.42,179.5 132.45,179.63 134.64,180.14 135.4,180.9 137.5,182.31 138.97,184.35 140.35,187.79 141.79,191.18 143.23,194.62 144.64,198 146.08,201.51 147.49,205.02 148.87,207.57 150.31,209.81 151.68,211.27 153.23,213.44 156.15,216.76 159,220.2 161.85,224.8 164.67,228.75 167.49,231.62 170.37,234.43 173.23,236.92 176.08,239.03 178.96,240.75 180.2,241.32" fill="none" stroke="#e2c0c6" stroke-width="2.0" stroke-linejoin="round"/><polyline points="105.92,243.3 108.05,241.32 110.22,239.03 112.35,235.52 113.76,232.14 115.2,226.46 116.26,220.71 116.99,216.25 118.02,211.4 119.05,205.79 120.49,199.98 121.9,194.37 123.34,188.69 124.75,184.6 126.5,181.8 128.32,180.39 130.42,179.5 132.45,179.63 134.64,180.14 135.4,180.9 137.5,182.31 138.97,184.35 140.35,187.79 141.79,191.18 143.23,194.62 144.64,198 146.08,201.51 147.49,205.02 148.87,207.57 150.31,209.81 151.68,211.27 153.23,213.44 156.15,216.76 159,220.2 161.85,224.8 164.67,228.75 167.49,231.62 170.37,234.43 173.23,236.92 176.08,239.03 178.96,240.75 180.2,241.32" fill="none" stroke="#5e2832" stroke-width="1.1" stroke-linejoin="round"/></g><rect x="25.6" y="179.5" width="154.6" height="63.8" fill="none" stroke="#808080" stroke-width="0.9"/><path d="M25.6 243.3v-1.5M25.6 179.5v1.5M42.78 243.3v-1.5M42.78 179.5v1.5M59.96 243.3v-1.5M59.96 179.5v1.5M77.13 243.3v-1.5M77.13 179.5v1.5M94.31 243.3v-1.5M94.31 179.5v1.5M111.49 243.3v-1.5M111.49 179.5v1.5M128.67 243.3v-1.5M128.67 179.5v1.5M145.84 243.3v-1.5M145.84 179.5v1.5M163.02 243.3v-1.5M163.02 179.5v1.5M180.2 243.3v-1.5M180.2 179.5v1.5M25.6 243.3h1.5M180.2 243.3h-1.5M25.6 230.54h1.5M180.2 230.54h-1.5M25.6 217.78h1.5M180.2 217.78h-1.5M25.6 205.02h1.5M180.2 205.02h-1.5M25.6 192.26h1.5M180.2 192.26h-1.5M25.6 179.5h1.5M180.2 179.5h-1.5" stroke="#808080" stroke-width="0.6" fill="none"/><text x="25.6" y="250.9" class="t" text-anchor="middle">350</text><text x="42.78" y="250.9" class="t" text-anchor="middle">400</text><text x="59.96" y="250.9" class="t" text-anchor="middle">450</text><text x="77.13" y="250.9" class="t" text-anchor="middle">500</text><text x="94.31" y="250.9" class="t" text-anchor="middle">550</text><text x="111.49" y="250.9" class="t" text-anchor="middle">600</text><text x="128.67" y="250.9" class="t" text-anchor="middle">650</text><text x="145.84" y="250.9" class="t" text-anchor="middle">700</text><text x="163.02" y="250.9" class="t" text-anchor="middle">750</text><text x="180.2" y="250.9" class="t" text-anchor="middle">800</text><text x="24.6" y="246.15" class="t" text-anchor="end">0</text><text x="24.6" y="233.39" class="t" text-anchor="end">0.2</text><text x="24.6" y="220.63" class="t" text-anchor="end">0.4</text><text x="24.6" y="207.87" class="t" text-anchor="end">0.6</text><text x="24.6" y="195.11" class="t" text-anchor="end">0.8</text><text x="24.6" y="182.35" class="t" text-anchor="end">1</text><text x="102.9" y="257.5" class="t" text-anchor="middle">Wavelength (nm)</text><text transform="translate(12.8 211.7) rotate(-90)" class="t" text-anchor="middle">Fluorescence</text><rect x="146.1" y="179.5" width="34.1" height="20.8" fill="#fff" stroke="#808080" stroke-width="0.9"/><line x1="147.1" y1="183.25" x2="154.1" y2="183.25" stroke="#b9a24a" stroke-width="1" stroke-dasharray="1.2,0.7"/><text x="154.1" y="184.5" class="l">mKO2 ex</text><line x1="147.1" y1="187.97" x2="154.1" y2="187.97" stroke="#b9a24a" stroke-width="1"/><text x="154.1" y="189.22" class="l">mKO2 em</text><line x1="147.1" y1="192.69" x2="154.1" y2="192.69" stroke="#5e2832" stroke-width="1" stroke-dasharray="1.2,0.7"/><text x="154.1" y="193.94" class="l">mMaroon1 ex</text><line x1="147.1" y1="197.41" x2="154.1" y2="197.41" stroke="#5e2832" stroke-width="1"/><text x="154.1" y="198.66" class="l">mMaroon1 em</text><g clip-path="url(#cC2)"><polyline points="218.28,244.4 220.21,241.21 222.42,235.45 224.36,227.15 226.18,217.11 227.89,206.89 229.66,196.6 231.38,187.4 233.09,181.78 234.2,180.82 235.97,184.01 237.07,188.62 238.79,195.39 240.5,202.29 242.27,209.19 243.98,214.88 247.13,222.67 251.34,228.11 255.59,232.58 259.19,235.77 262.89,238.33 266.54,240.25 270.19,241.52 275.66,242.67 281.02,243.38 287.11,243.95 297.06,244.27 335.76,244.4 363.4,244.4" fill="none" stroke="#f2e9b0" stroke-width="2.0" stroke-linejoin="round"/><polyline points="218.28,244.4 220.21,241.21 222.42,235.45 224.36,227.15 226.18,217.11 227.89,206.89 229.66,196.6 231.38,187.4 233.09,181.78 234.2,180.82 235.97,184.01 237.07,188.62 238.79,195.39 240.5,202.29 242.27,209.19 243.98,214.88 247.13,222.67 251.34,228.11 255.59,232.58 259.19,235.77 262.89,238.33 266.54,240.25 270.19,241.52 275.66,242.67 281.02,243.38 287.11,243.95 297.06,244.27 335.76,244.4 363.4,244.4" fill="none" stroke="#b9a24a" stroke-width="1.1" stroke-linejoin="round"/><polyline points="243.87,244.4 247.3,242.42 250.78,240.12 254.21,236.6 256.48,233.22 258.8,227.53 260.51,221.78 261.67,217.31 263.33,212.45 264.99,206.83 267.31,201.01 269.58,195.39 271.9,189.7 274.17,185.61 276.99,182.8 279.92,181.39 283.29,180.5 286.55,180.63 290.09,181.14 291.31,181.91 294.68,183.31 297.06,185.36 299.27,188.81 301.59,192.19 303.91,195.64 306.18,199.03 308.5,202.55 310.77,206.06 312.98,208.62 315.3,210.85 317.51,212.32 320,214.49 324.7,217.82 329.29,221.27 333.88,225.87 338.41,229.83 342.94,232.71 347.59,235.52 352.18,238.01 356.77,240.12 361.41,241.84 363.4,242.42" fill="none" stroke="#e2c0c6" stroke-width="2.0" stroke-linejoin="round"/><polyline points="243.87,244.4 247.3,242.42 250.78,240.12 254.21,236.6 256.48,233.22 258.8,227.53 260.51,221.78 261.67,217.31 263.33,212.45 264.99,206.83 267.31,201.01 269.58,195.39 271.9,189.7 274.17,185.61 276.99,182.8 279.92,181.39 283.29,180.5 286.55,180.63 290.09,181.14 291.31,181.91 294.68,183.31 297.06,185.36 299.27,188.81 301.59,192.19 303.91,195.64 306.18,199.03 308.5,202.55 310.77,206.06 312.98,208.62 315.3,210.85 317.51,212.32 320,214.49 324.7,217.82 329.29,221.27 333.88,225.87 338.41,229.83 342.94,232.71 347.59,235.52 352.18,238.01 356.77,240.12 361.41,241.84 363.4,242.42" fill="none" stroke="#5e2832" stroke-width="1.1" stroke-linejoin="round"/><line x1="239.5" y1="180.5" x2="239.5" y2="244.4" stroke="#000" stroke-width="1.15"/><line x1="250.5" y1="180.5" x2="250.5" y2="244.4" stroke="#000" stroke-width="1.15"/></g><rect x="208.6" y="180.5" width="154.8" height="63.9" fill="none" stroke="#808080" stroke-width="0.9"/><path d="M225.19 244.4v-1.5M225.19 180.5v1.5M252.83 244.4v-1.5M252.83 180.5v1.5M280.47 244.4v-1.5M280.47 180.5v1.5M308.11 244.4v-1.5M308.11 180.5v1.5M335.76 244.4v-1.5M335.76 180.5v1.5M363.4 244.4v-1.5M363.4 180.5v1.5M208.6 244.4h1.5M363.4 244.4h-1.5M208.6 231.62h1.5M363.4 231.62h-1.5M208.6 218.84h1.5M363.4 218.84h-1.5M208.6 206.06h1.5M363.4 206.06h-1.5M208.6 193.28h1.5M363.4 193.28h-1.5M208.6 180.5h1.5M363.4 180.5h-1.5" stroke="#808080" stroke-width="0.6" fill="none"/><text x="225.19" y="252" class="t" text-anchor="middle">550</text><text x="252.83" y="252" class="t" text-anchor="middle">600</text><text x="280.47" y="252" class="t" text-anchor="middle">650</text><text x="308.11" y="252" class="t" text-anchor="middle">700</text><text x="335.76" y="252" class="t" text-anchor="middle">750</text><text x="363.4" y="252" class="t" text-anchor="middle">800</text><text x="207.6" y="247.25" class="t" text-anchor="end">0</text><text x="207.6" y="234.47" class="t" text-anchor="end">0.2</text><text x="207.6" y="221.69" class="t" text-anchor="end">0.4</text><text x="207.6" y="208.91" class="t" text-anchor="end">0.6</text><text x="207.6" y="196.13" class="t" text-anchor="end">0.8</text><text x="207.6" y="183.35" class="t" text-anchor="end">1</text><text x="286" y="258.6" class="t" text-anchor="middle">Wavelength (nm)</text><text transform="translate(195.8 212.75) rotate(-90)" class="t" text-anchor="middle">Fluorescence</text><rect x="329.2" y="180.5" width="34.2" height="11.2" fill="#fff" stroke="#808080" stroke-width="0.9"/><line x1="330.2" y1="184.25" x2="337.2" y2="184.25" stroke="#b9a24a" stroke-width="1"/><text x="337.2" y="185.5" class="l">mKO2 em</text><line x1="330.2" y1="188.97" x2="337.2" y2="188.97" stroke="#5e2832" stroke-width="1"/><text x="337.2" y="190.22" class="l">mMaroon1 em</text><g clip-path="url(#cC3)"><rect x="449.5" y="180.5" width="5.81" height="63.4" fill="#e4f8f8"/><polyline points="348.75,240.73 354.29,240.1 359.82,240.1 365.36,241.36 370.89,242.95 376.43,243.58 387.5,243.65 398.02,243.39 405.77,242.51 411.08,240.1 416.4,237.56 421.6,235.15 425.59,232.3 429.57,227.67 432.89,221.77 436.21,215.24 439.54,210.74 442.86,209.66 446.18,209.98 448.39,209.35 449.83,205.86 452.16,199.52 454.48,192.55 456.81,186.52 458.91,181.77 460.57,180.5 462.23,182.09 464.06,188.55 465.55,200.15 467.66,212.2 468.6,219.17 469.87,231.22 471.09,242.63 471.37,243.9 542.5,243.9" fill="none" stroke="#eee39a" stroke-width="1.5" stroke-linejoin="round"/><polyline points="348.75,240.73 354.29,240.1 359.82,240.1 365.36,241.36 370.89,242.95 376.43,243.58 387.5,243.65 398.02,243.39 405.77,242.51 411.08,240.1 416.4,237.56 421.6,235.15 425.59,232.3 429.57,227.67 432.89,221.77 436.21,215.24 439.54,210.74 442.86,209.66 446.18,209.98 448.39,209.35 449.83,205.86 452.16,199.52 454.48,192.55 456.81,186.52 458.91,181.77 460.57,180.5 462.23,182.09 464.06,188.55 465.55,200.15 467.66,212.2 468.6,219.17 469.87,231.22 471.09,242.63 471.37,243.9 542.5,243.9" fill="none" stroke="#948a3c" stroke-width="1.2" stroke-dasharray="2,1.2" stroke-linejoin="round"/><polyline points="348.75,234.77 357.61,236.04 367.57,238.07 377.54,240.92 387.5,242.63 397.74,243.14 407.43,243.14 415.73,242.76 421.1,241.11 426.42,239.27 431.62,237.18 436.88,234.9 442.19,231.85 448.78,227.29 455.42,221.71 460.02,217.91 462.79,215.37 466.83,211.88 471.59,207.44 475.3,203.7 478.29,200.15 480.72,196.54 483.1,191.79 484.93,188.11 486.7,183.35 488.53,181.2 492.12,180.69 495.11,181.2 496.89,183.29 498.1,188.11 499.32,194.13 500.59,200.15 501.81,206.11 502.92,212.2 504.41,219.81 506.19,226.47 508.29,231.92 511.06,236.23 514.27,239.53 518.14,241.11 522.02,242.51 525.78,243.58 542.5,243.9" fill="none" stroke="#d7a7b0" stroke-width="1.5" stroke-linejoin="round"/><polyline points="348.75,234.77 357.61,236.04 367.57,238.07 377.54,240.92 387.5,242.63 397.74,243.14 407.43,243.14 415.73,242.76 421.1,241.11 426.42,239.27 431.62,237.18 436.88,234.9 442.19,231.85 448.78,227.29 455.42,221.71 460.02,217.91 462.79,215.37 466.83,211.88 471.59,207.44 475.3,203.7 478.29,200.15 480.72,196.54 483.1,191.79 484.93,188.11 486.7,183.35 488.53,181.2 492.12,180.69 495.11,181.2 496.89,183.29 498.1,188.11 499.32,194.13 500.59,200.15 501.81,206.11 502.92,212.2 504.41,219.81 506.19,226.47 508.29,231.92 511.06,236.23 514.27,239.53 518.14,241.11 522.02,242.51 525.78,243.58 542.5,243.9" fill="none" stroke="#5c2632" stroke-width="1.2" stroke-dasharray="2,1.2" stroke-linejoin="round"/><line x1="416.95" y1="180.5" x2="416.95" y2="243.9" stroke="#3c3ce4" stroke-width="1.3"/><line x1="449.22" y1="180.5" x2="449.22" y2="243.9" stroke="#96cc5c" stroke-width="1.4"/></g><rect x="387.5" y="180.5" width="155" height="63.4" fill="none" stroke="#808080" stroke-width="0.9"/><path d="M404.11 243.9v-1.5M404.11 180.5v1.5M431.79 243.9v-1.5M431.79 180.5v1.5M459.46 243.9v-1.5M459.46 180.5v1.5M487.14 243.9v-1.5M487.14 180.5v1.5M514.82 243.9v-1.5M514.82 180.5v1.5M542.5 243.9v-1.5M542.5 180.5v1.5M387.5 243.9h1.5M542.5 243.9h-1.5M387.5 231.22h1.5M542.5 231.22h-1.5M387.5 218.54h1.5M542.5 218.54h-1.5M387.5 205.86h1.5M542.5 205.86h-1.5M387.5 193.18h1.5M542.5 193.18h-1.5M387.5 180.5h1.5M542.5 180.5h-1.5" stroke="#808080" stroke-width="0.6" fill="none"/><text x="404.11" y="251.5" class="t" text-anchor="middle">450</text><text x="431.79" y="251.5" class="t" text-anchor="middle">500</text><text x="459.46" y="251.5" class="t" text-anchor="middle">550</text><text x="487.14" y="251.5" class="t" text-anchor="middle">600</text><text x="514.82" y="251.5" class="t" text-anchor="middle">650</text><text x="542.5" y="251.5" class="t" text-anchor="middle">700</text><text x="386.5" y="246.75" class="t" text-anchor="end">0</text><text x="386.5" y="234.07" class="t" text-anchor="end">0.2</text><text x="386.5" y="221.39" class="t" text-anchor="end">0.4</text><text x="386.5" y="208.71" class="t" text-anchor="end">0.6</text><text x="386.5" y="196.03" class="t" text-anchor="end">0.8</text><text x="386.5" y="183.35" class="t" text-anchor="end">1</text><text x="465" y="258.1" class="t" text-anchor="middle">Wavelength (nm)</text><text transform="translate(374.7 212.5) rotate(-90)" class="t" text-anchor="middle">Fluorescence</text><rect x="510.2" y="180.5" width="32.3" height="11.2" fill="#fff" stroke="#808080" stroke-width="0.9"/><line x1="511.2" y1="184.25" x2="518.2" y2="184.25" stroke="#b9a24a" stroke-width="1" stroke-dasharray="1.2,0.7"/><text x="518.2" y="185.5" class="l">mKO2 ex</text><line x1="511.2" y1="188.97" x2="518.2" y2="188.97" stroke="#5e2832" stroke-width="1" stroke-dasharray="1.2,0.7"/><text x="518.2" y="190.22" class="l">mMaroon1 ex</text><g clip-path="url(#cD1)"><polyline points="25.4,326.01 28.84,325.38 32.28,325.38 35.72,326.65 39.16,328.24 42.6,328.88 49.48,328.95 56.02,328.69 60.83,327.8 64.13,325.38 67.44,322.83 70.67,320.41 73.15,317.54 75.62,312.89 77.69,306.97 79.75,300.41 81.82,295.88 83.88,294.8 85.94,295.12 87.32,294.48 88.21,290.98 89.66,284.61 91.1,277.6 92.55,271.55 93.86,266.77 94.89,265.5 95.92,267.09 97.06,273.59 97.98,285.25 99.29,297.35 99.88,304.36 100.67,316.46 101.42,327.93 101.6,329.2 145.8,329.2" fill="none" stroke="#eee39a" stroke-width="1.5" stroke-linejoin="round"/><polyline points="25.4,326.01 28.84,325.38 32.28,325.38 35.72,326.65 39.16,328.24 42.6,328.88 49.48,328.95 56.02,328.69 60.83,327.8 64.13,325.38 67.44,322.83 70.67,320.41 73.15,317.54 75.62,312.89 77.69,306.97 79.75,300.41 81.82,295.88 83.88,294.8 85.94,295.12 87.32,294.48 88.21,290.98 89.66,284.61 91.1,277.6 92.55,271.55 93.86,266.77 94.89,265.5 95.92,267.09 97.06,273.59 97.98,285.25 99.29,297.35 99.88,304.36 100.67,316.46 101.42,327.93 101.6,329.2 145.8,329.2" fill="none" stroke="#948a3c" stroke-width="1.2" stroke-dasharray="2,1.2" stroke-linejoin="round"/><polyline points="89.9,329.2 91.1,326.01 92.48,320.28 93.68,312 94.82,302 95.89,291.81 96.99,281.55 98.05,272.38 99.12,266.77 99.81,265.82 100.91,269 101.6,273.59 102.66,280.34 103.73,287.22 104.83,294.1 105.9,299.77 107.86,307.54 110.47,312.96 113.12,317.42 115.36,320.6 117.66,323.15 119.93,325.06 122.2,326.33 125.61,327.48 128.94,328.18 132.73,328.75 138.92,329.07 163,329.2" fill="none" stroke="#f2e9b0" stroke-width="2.0" stroke-linejoin="round"/><polyline points="89.9,329.2 91.1,326.01 92.48,320.28 93.68,312 94.82,302 95.89,291.81 96.99,281.55 98.05,272.38 99.12,266.77 99.81,265.82 100.91,269 101.6,273.59 102.66,280.34 103.73,287.22 104.83,294.1 105.9,299.77 107.86,307.54 110.47,312.96 113.12,317.42 115.36,320.6 117.66,323.15 119.93,325.06 122.2,326.33 125.61,327.48 128.94,328.18 132.73,328.75 138.92,329.07 163,329.2" fill="none" stroke="#b9a24a" stroke-width="1.1" stroke-linejoin="round"/><polyline points="25.4,326.33 28.84,325.7 32.28,325.7 35.72,326.97 39.16,328.56 42.6,329.01 56.36,329.01 64.13,327.8 68.26,325.38 72.36,322.19 75.66,318.18 78.1,313.59 80.58,308.31 83.02,303.72 85.5,301.17 86.98,298.62 88.15,294.8 89.52,290.66 90.97,286.08 92.07,280.34 93.13,274.67 94.2,269.51 95.23,266.52 96.26,265.69 97.43,269.96 98.36,278.05 99.36,285.5 100.29,292.89 101.22,300.34 101.97,308.18 103.08,314.74 104.14,319.33 105.55,323.34 107.31,326.21 109.47,327.93 111.61,328.69 116.56,329.2 145.8,329.2" fill="none" stroke="#d7a7b0" stroke-width="1.5" stroke-linejoin="round"/><polyline points="25.4,326.33 28.84,325.7 32.28,325.7 35.72,326.97 39.16,328.56 42.6,329.01 56.36,329.01 64.13,327.8 68.26,325.38 72.36,322.19 75.66,318.18 78.1,313.59 80.58,308.31 83.02,303.72 85.5,301.17 86.98,298.62 88.15,294.8 89.52,290.66 90.97,286.08 92.07,280.34 93.13,274.67 94.2,269.51 95.23,266.52 96.26,265.69 97.43,269.96 98.36,278.05 99.36,285.5 100.29,292.89 101.22,300.34 101.97,308.18 103.08,314.74 104.14,319.33 105.55,323.34 107.31,326.21 109.47,327.93 111.61,328.69 116.56,329.2 145.8,329.2" fill="none" stroke="#5c2632" stroke-width="1.2" stroke-dasharray="2,1.2" stroke-linejoin="round"/><polyline points="89.21,329.2 91.1,326.91 93.75,320.73 95.23,313.27 96.44,308.18 97.67,302 98.74,294.1 99.81,284.93 100.91,278.05 101.97,272.38 103.04,267.79 104.45,265.82 106.24,265.5 108.03,266.14 109.82,269 111.26,272.95 112.67,276.33 113.81,279.51 115.77,283.97 117.9,289.39 120.07,295.44 122.2,301.17 124.37,305.63 126.47,309.45 128.6,312.51 130.77,314.87 132.52,316.78 135.86,319.96 139.71,322.83 144.87,325.51 150,326.91 155.16,327.99 162.86,328.56 163.69,329.2" fill="none" stroke="#e2c0c6" stroke-width="2.0" stroke-linejoin="round"/><polyline points="89.21,329.2 91.1,326.91 93.75,320.73 95.23,313.27 96.44,308.18 97.67,302 98.74,294.1 99.81,284.93 100.91,278.05 101.97,272.38 103.04,267.79 104.45,265.82 106.24,265.5 108.03,266.14 109.82,269 111.26,272.95 112.67,276.33 113.81,279.51 115.77,283.97 117.9,289.39 120.07,295.44 122.2,301.17 124.37,305.63 126.47,309.45 128.6,312.51 130.77,314.87 132.52,316.78 135.86,319.96 139.71,322.83 144.87,325.51 150,326.91 155.16,327.99 162.86,328.56 163.69,329.2" fill="none" stroke="#5e2832" stroke-width="1.1" stroke-linejoin="round"/></g><rect x="25.4" y="265.5" width="154.8" height="63.7" fill="none" stroke="#808080" stroke-width="0.9"/><path d="M25.4 329.2v-1.5M25.4 265.5v1.5M42.6 329.2v-1.5M42.6 265.5v1.5M59.8 329.2v-1.5M59.8 265.5v1.5M77 329.2v-1.5M77 265.5v1.5M94.2 329.2v-1.5M94.2 265.5v1.5M111.4 329.2v-1.5M111.4 265.5v1.5M128.6 329.2v-1.5M128.6 265.5v1.5M145.8 329.2v-1.5M145.8 265.5v1.5M163 329.2v-1.5M163 265.5v1.5M180.2 329.2v-1.5M180.2 265.5v1.5M25.4 329.2h1.5M180.2 329.2h-1.5M25.4 316.46h1.5M180.2 316.46h-1.5M25.4 303.72h1.5M180.2 303.72h-1.5M25.4 290.98h1.5M180.2 290.98h-1.5M25.4 278.24h1.5M180.2 278.24h-1.5M25.4 265.5h1.5M180.2 265.5h-1.5" stroke="#808080" stroke-width="0.6" fill="none"/><text x="25.4" y="336.8" class="t" text-anchor="middle">350</text><text x="42.6" y="336.8" class="t" text-anchor="middle">400</text><text x="59.8" y="336.8" class="t" text-anchor="middle">450</text><text x="77" y="336.8" class="t" text-anchor="middle">500</text><text x="94.2" y="336.8" class="t" text-anchor="middle">550</text><text x="111.4" y="336.8" class="t" text-anchor="middle">600</text><text x="128.6" y="336.8" class="t" text-anchor="middle">650</text><text x="145.8" y="336.8" class="t" text-anchor="middle">700</text><text x="163" y="336.8" class="t" text-anchor="middle">750</text><text x="180.2" y="336.8" class="t" text-anchor="middle">800</text><text x="24.4" y="332.05" class="t" text-anchor="end">0</text><text x="24.4" y="319.31" class="t" text-anchor="end">0.2</text><text x="24.4" y="306.57" class="t" text-anchor="end">0.4</text><text x="24.4" y="293.83" class="t" text-anchor="end">0.6</text><text x="24.4" y="281.09" class="t" text-anchor="end">0.8</text><text x="24.4" y="268.35" class="t" text-anchor="end">1</text><text x="102.8" y="343.4" class="t" text-anchor="middle">Wavelength (nm)</text><text transform="translate(12.6 297.65) rotate(-90)" class="t" text-anchor="middle">Fluorescence</text><rect x="152.4" y="265.4" width="28" height="20.6" fill="#fff" stroke="#808080" stroke-width="0.9"/><line x1="153.4" y1="269.15" x2="160.4" y2="269.15" stroke="#b9a24a" stroke-width="1" stroke-dasharray="1.2,0.7"/><text x="160.4" y="270.4" class="l">mKO2 ex</text><line x1="153.4" y1="273.87" x2="160.4" y2="273.87" stroke="#b9a24a" stroke-width="1"/><text x="160.4" y="275.12" class="l">mKO2 em</text><line x1="153.4" y1="278.59" x2="160.4" y2="278.59" stroke="#5e2832" stroke-width="1" stroke-dasharray="1.2,0.7"/><text x="160.4" y="279.84" class="l">tagRFP ex</text><line x1="153.4" y1="283.31" x2="160.4" y2="283.31" stroke="#5e2832" stroke-width="1"/><text x="160.4" y="284.56" class="l">tagRFP em</text><g clip-path="url(#cD2)"><polyline points="214.38,329.3 216.32,326.11 218.53,320.35 220.47,312.05 222.29,302.01 224.01,291.79 225.78,281.5 227.49,272.3 229.21,266.68 230.31,265.72 232.08,268.91 233.19,273.52 234.91,280.29 236.62,287.19 238.39,294.09 240.11,299.78 243.26,307.57 247.46,313.01 251.72,317.48 255.32,320.67 259.03,323.23 262.68,325.15 266.33,326.42 271.8,327.57 277.17,328.28 283.26,328.85 293.21,329.17 331.94,329.3" fill="none" stroke="#f2e9b0" stroke-width="2.0" stroke-linejoin="round"/><polyline points="214.38,329.3 216.32,326.11 218.53,320.35 220.47,312.05 222.29,302.01 224.01,291.79 225.78,281.5 227.49,272.3 229.21,266.68 230.31,265.72 232.08,268.91 233.19,273.52 234.91,280.29 236.62,287.19 238.39,294.09 240.11,299.78 243.26,307.57 247.46,313.01 251.72,317.48 255.32,320.67 259.03,323.23 262.68,325.15 266.33,326.42 271.8,327.57 277.17,328.28 283.26,328.85 293.21,329.17 331.94,329.3" fill="none" stroke="#b9a24a" stroke-width="1.1" stroke-linejoin="round"/><polyline points="213.27,329.3 216.32,327 220.58,320.8 222.96,313.32 224.89,308.21 226.88,302.01 228.6,294.09 230.31,284.89 232.08,277.99 233.8,272.3 235.51,267.7 237.78,265.72 240.66,265.4 243.54,266.04 246.41,268.91 248.74,272.88 251,276.26 252.83,279.46 255.98,283.93 259.41,289.36 262.9,295.43 266.33,301.18 269.81,305.66 273.19,309.49 276.62,312.56 280.1,314.92 282.92,316.84 288.29,320.03 294.49,322.91 302.78,325.59 311.03,327 319.33,328.09 331.72,328.66 333.05,329.3" fill="none" stroke="#e2c0c6" stroke-width="2.0" stroke-linejoin="round"/><polyline points="213.27,329.3 216.32,327 220.58,320.8 222.96,313.32 224.89,308.21 226.88,302.01 228.6,294.09 230.31,284.89 232.08,277.99 233.8,272.3 235.51,267.7 237.78,265.72 240.66,265.4 243.54,266.04 246.41,268.91 248.74,272.88 251,276.26 252.83,279.46 255.98,283.93 259.41,289.36 262.9,295.43 266.33,301.18 269.81,305.66 273.19,309.49 276.62,312.56 280.1,314.92 282.92,316.84 288.29,320.03 294.49,322.91 302.78,325.59 311.03,327 319.33,328.09 331.72,328.66 333.05,329.3" fill="none" stroke="#5e2832" stroke-width="1.1" stroke-linejoin="round"/><line x1="235.5" y1="265.4" x2="235.5" y2="329.3" stroke="#000" stroke-width="1.15"/><line x1="246.5" y1="265.4" x2="246.5" y2="329.3" stroke="#000" stroke-width="1.15"/></g><rect x="204.7" y="265.4" width="154.9" height="63.9" fill="none" stroke="#808080" stroke-width="0.9"/><path d="M221.3 329.3v-1.5M221.3 265.4v1.5M248.96 329.3v-1.5M248.96 265.4v1.5M276.62 329.3v-1.5M276.62 265.4v1.5M304.28 329.3v-1.5M304.28 265.4v1.5M331.94 329.3v-1.5M331.94 265.4v1.5M359.6 329.3v-1.5M359.6 265.4v1.5M204.7 329.3h1.5M359.6 329.3h-1.5M204.7 316.52h1.5M359.6 316.52h-1.5M204.7 303.74h1.5M359.6 303.74h-1.5M204.7 290.96h1.5M359.6 290.96h-1.5M204.7 278.18h1.5M359.6 278.18h-1.5M204.7 265.4h1.5M359.6 265.4h-1.5" stroke="#808080" stroke-width="0.6" fill="none"/><text x="221.3" y="336.9" class="t" text-anchor="middle">550</text><text x="248.96" y="336.9" class="t" text-anchor="middle">600</text><text x="276.62" y="336.9" class="t" text-anchor="middle">650</text><text x="304.28" y="336.9" class="t" text-anchor="middle">700</text><text x="331.94" y="336.9" class="t" text-anchor="middle">750</text><text x="359.6" y="336.9" class="t" text-anchor="middle">800</text><text x="203.7" y="332.15" class="t" text-anchor="end">0</text><text x="203.7" y="319.37" class="t" text-anchor="end">0.2</text><text x="203.7" y="306.59" class="t" text-anchor="end">0.4</text><text x="203.7" y="293.81" class="t" text-anchor="end">0.6</text><text x="203.7" y="281.03" class="t" text-anchor="end">0.8</text><text x="203.7" y="268.25" class="t" text-anchor="end">1</text><text x="282.15" y="343.5" class="t" text-anchor="middle">Wavelength (nm)</text><text transform="translate(191.9 297.65) rotate(-90)" class="t" text-anchor="middle">Fluorescence</text><rect x="331.2" y="265.4" width="28.4" height="11.5" fill="#fff" stroke="#808080" stroke-width="0.9"/><line x1="332.2" y1="269.15" x2="339.2" y2="269.15" stroke="#b9a24a" stroke-width="1"/><text x="339.2" y="270.4" class="l">mKO2 em</text><line x1="332.2" y1="273.87" x2="339.2" y2="273.87" stroke="#5e2832" stroke-width="1"/><text x="339.2" y="275.12" class="l">tagRFP em</text><g clip-path="url(#cD3)"><rect x="449.56" y="265.4" width="5.81" height="64" fill="#e4f8f8"/><polyline points="348.88,326.2 354.41,325.56 359.94,325.56 365.47,326.84 371,328.44 376.54,329.08 387.6,329.14 398.11,328.89 405.86,327.99 411.17,325.56 416.48,323 421.68,320.57 425.66,317.69 429.64,313.02 432.96,307.06 436.28,300.47 439.6,295.93 442.92,294.84 446.24,295.16 448.45,294.52 449.89,291 452.22,284.6 454.54,277.56 456.86,271.48 458.96,266.68 460.62,265.4 462.28,267 464.11,273.53 465.6,285.24 467.71,297.4 468.65,304.44 469.92,316.6 471.14,328.12 471.41,329.4 542.5,329.4" fill="none" stroke="#eee39a" stroke-width="1.5" stroke-linejoin="round"/><polyline points="348.88,326.2 354.41,325.56 359.94,325.56 365.47,326.84 371,328.44 376.54,329.08 387.6,329.14 398.11,328.89 405.86,327.99 411.17,325.56 416.48,323 421.68,320.57 425.66,317.69 429.64,313.02 432.96,307.06 436.28,300.47 439.6,295.93 442.92,294.84 446.24,295.16 448.45,294.52 449.89,291 452.22,284.6 454.54,277.56 456.86,271.48 458.96,266.68 460.62,265.4 462.28,267 464.11,273.53 465.6,285.24 467.71,297.4 468.65,304.44 469.92,316.6 471.14,328.12 471.41,329.4 542.5,329.4" fill="none" stroke="#948a3c" stroke-width="1.2" stroke-dasharray="2,1.2" stroke-linejoin="round"/><polyline points="348.88,326.52 354.41,325.88 359.94,325.88 365.47,327.16 371,328.76 376.54,329.21 398.66,329.21 411.17,327.99 417.81,325.56 424.39,322.36 429.7,318.33 433.63,313.72 437.61,308.41 441.54,303.8 445.52,301.24 447.9,298.68 449.78,294.84 451.99,290.68 454.32,286.07 456.09,280.31 457.8,274.62 459.52,269.43 461.18,266.42 462.84,265.59 464.72,269.88 466.21,278.01 467.82,285.5 469.31,292.92 470.8,300.41 472.02,308.28 473.79,314.87 475.51,319.48 477.77,323.51 480.6,326.39 484.08,328.12 487.51,328.89 495.48,329.4 542.5,329.4" fill="none" stroke="#d7a7b0" stroke-width="1.5" stroke-linejoin="round"/><polyline points="348.88,326.52 354.41,325.88 359.94,325.88 365.47,327.16 371,328.76 376.54,329.21 398.66,329.21 411.17,327.99 417.81,325.56 424.39,322.36 429.7,318.33 433.63,313.72 437.61,308.41 441.54,303.8 445.52,301.24 447.9,298.68 449.78,294.84 451.99,290.68 454.32,286.07 456.09,280.31 457.8,274.62 459.52,269.43 461.18,266.42 462.84,265.59 464.72,269.88 466.21,278.01 467.82,285.5 469.31,292.92 470.8,300.41 472.02,308.28 473.79,314.87 475.51,319.48 477.77,323.51 480.6,326.39 484.08,328.12 487.51,328.89 495.48,329.4 542.5,329.4" fill="none" stroke="#5c2632" stroke-width="1.2" stroke-dasharray="2,1.2" stroke-linejoin="round"/><line x1="417.03" y1="265.4" x2="417.03" y2="329.4" stroke="#3c3ce4" stroke-width="1.3"/><line x1="449.28" y1="265.4" x2="449.28" y2="329.4" stroke="#96cc5c" stroke-width="1.4"/></g><rect x="387.6" y="265.4" width="154.9" height="64" fill="none" stroke="#808080" stroke-width="0.9"/><path d="M404.2 329.4v-1.5M404.2 265.4v1.5M431.86 329.4v-1.5M431.86 265.4v1.5M459.52 329.4v-1.5M459.52 265.4v1.5M487.18 329.4v-1.5M487.18 265.4v1.5M514.84 329.4v-1.5M514.84 265.4v1.5M542.5 329.4v-1.5M542.5 265.4v1.5M387.6 329.4h1.5M542.5 329.4h-1.5M387.6 316.6h1.5M542.5 316.6h-1.5M387.6 303.8h1.5M542.5 303.8h-1.5M387.6 291h1.5M542.5 291h-1.5M387.6 278.2h1.5M542.5 278.2h-1.5M387.6 265.4h1.5M542.5 265.4h-1.5" stroke="#808080" stroke-width="0.6" fill="none"/><text x="404.2" y="337" class="t" text-anchor="middle">450</text><text x="431.86" y="337" class="t" text-anchor="middle">500</text><text x="459.52" y="337" class="t" text-anchor="middle">550</text><text x="487.18" y="337" class="t" text-anchor="middle">600</text><text x="514.84" y="337" class="t" text-anchor="middle">650</text><text x="542.5" y="337" class="t" text-anchor="middle">700</text><text x="386.6" y="332.25" class="t" text-anchor="end">0</text><text x="386.6" y="319.45" class="t" text-anchor="end">0.2</text><text x="386.6" y="306.65" class="t" text-anchor="end">0.4</text><text x="386.6" y="293.85" class="t" text-anchor="end">0.6</text><text x="386.6" y="281.05" class="t" text-anchor="end">0.8</text><text x="386.6" y="268.25" class="t" text-anchor="end">1</text><text x="465.05" y="343.6" class="t" text-anchor="middle">Wavelength (nm)</text><text transform="translate(374.8 297.7) rotate(-90)" class="t" text-anchor="middle">Fluorescence</text><rect x="515.7" y="265.4" width="26.8" height="12.1" fill="#fff" stroke="#808080" stroke-width="0.9"/><line x1="516.7" y1="269.15" x2="523.7" y2="269.15" stroke="#b9a24a" stroke-width="1" stroke-dasharray="1.2,0.7"/><text x="523.7" y="270.4" class="l">mKO2 ex</text><line x1="516.7" y1="273.87" x2="523.7" y2="273.87" stroke="#5e2832" stroke-width="1" stroke-dasharray="1.2,0.7"/><text x="523.7" y="275.12" class="l">tagRFP ex</text><text x="3.3" y="11.6" class="p">A</text><text x="3.6" y="98.6" class="p">B</text><text x="5" y="181.6" class="p">C</text><text x="5.2" y="269" class="p">D</text></svg></body></html>
